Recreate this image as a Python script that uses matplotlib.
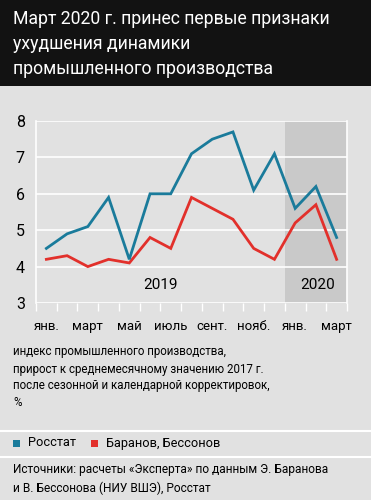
import matplotlib.pyplot as plt
from matplotlib.patches import Rectangle

plt.rcParams['font.family'] = ['Roboto', 'DejaVu Sans']

# data: industrial production growth vs 2017 monthly average, %
months = ['янв.', 'фев.', 'март', 'апр.', 'май', 'июнь', 'июль', 'авг.',
          'сент.', 'окт.', 'нояб.', 'дек.', 'янв.', 'фев.', 'март']
rosstat = [4.5, 4.9, 5.1, 5.9, 4.2, 6.0, 6.0, 7.1, 7.5, 7.7, 6.1, 7.1, 5.6, 6.2, 4.8]
baranov = [4.2, 4.3, 4.0, 4.2, 4.1, 4.8, 4.5, 5.9, 5.6, 5.3, 4.5, 4.2, 5.2, 5.7, 4.2]
year_labels = ['2019', '2020']

blue = '#1a7b9b'
red = '#e2302b'
bg = '#e1e1e1'

fig = plt.figure(figsize=(3.71, 5.0), dpi=100)
fig.patch.set_facecolor(bg)

# black title box
fig.patches.append(Rectangle((0, 1 - 86 / 500), 1, 86 / 500, transform=fig.transFigure,
                             facecolor='#121212', edgecolor='none', zorder=0))
title_lines = ['Март 2020 г. принес первые признаки', 'ухудшения динамики',
               'промышленного производства']
for i, line in enumerate(title_lines):
    fig.text(13 / 371, 1 - (19 + i * 25) / 500, line, color='white', fontsize=12.7,
             va='center', ha='left')

ax = fig.add_axes([36 / 371, 1 - 303 / 500, 311 / 371, 182 / 500])
ax.set_facecolor(bg)
x = list(range(len(months)))

# shaded 2020 region
ax.axvspan(11.5, 14.5, color='#c9c9c9', zorder=0, lw=0)

for v in range(3, 9):
    ax.axhline(v, color='white', lw=1.2, zorder=1)

ax.plot(x, baranov, color=red, lw=2, zorder=3, solid_joinstyle='miter')
ax.plot(x, rosstat, color=blue, lw=2, zorder=4, solid_joinstyle='miter')

ax.set_xlim(-0.5, 14.5)
ax.set_ylim(3, 8)

for s in ['top', 'bottom']:
    ax.spines[s].set_visible(False)
for s in ['left', 'right']:
    ax.spines[s].set_color('white')
    ax.spines[s].set_linewidth(1.2)

ax.set_yticks(range(3, 9))
ax.tick_params(axis='y', length=0, labelsize=11.5, pad=8)
ax.set_xticks([i - 0.5 for i in range(16)], minor=True)
ax.tick_params(axis='x', which='minor', length=6, color='white', width=1)
ax.set_xticks(x[::2])
ax.set_xticklabels(months[::2])
ax.tick_params(axis='x', which='major', length=0, labelsize=9.5, pad=12)

ax.text(5.5, 3.5, year_labels[0], fontsize=11, ha='center', va='center')
ax.text(13.1, 3.5, year_labels[1], fontsize=11, ha='center', va='center')

# note under chart
note = ['индекс промышленного производства,',
        'прирост к среднемесячному значению 2017 г.',
        'после сезонной и календарной корректировок,',
        '%']
for i, line in enumerate(note):
    fig.text(13 / 371, 1 - (352 + i * 17) / 500, line, fontsize=8.3, va='center')

# separators
for yy in [431, 457]:
    fig.add_artist(plt.Line2D([0, 1], [1 - yy / 500] * 2, color='white', lw=1.5,
                              transform=fig.transFigure))

# legend
fig.patches.append(Rectangle((13 / 371, 1 - 447 / 500), 7 / 371, 7 / 500,
                             transform=fig.transFigure, facecolor=blue, edgecolor='none'))
fig.text(28 / 371, 1 - 443 / 500, 'Росстат', fontsize=9.2, va='center')
fig.patches.append(Rectangle((91 / 371, 1 - 447 / 500), 7 / 371, 7 / 500,
                             transform=fig.transFigure, facecolor=red, edgecolor='none'))
fig.text(106 / 371, 1 - 443 / 500, 'Баранов, Бессонов', fontsize=9.2, va='center')

src = ['Источники: расчеты «Эксперта» по данным Э. Баранова',
       'и В. Бессонова (НИУ ВШЭ), Росстат']
for i, line in enumerate(src):
    fig.text(13 / 371, 1 - (470 + i * 18) / 500, line, fontsize=8.6, va='center')

fig.savefig('out.png', dpi=100, facecolor=bg)
